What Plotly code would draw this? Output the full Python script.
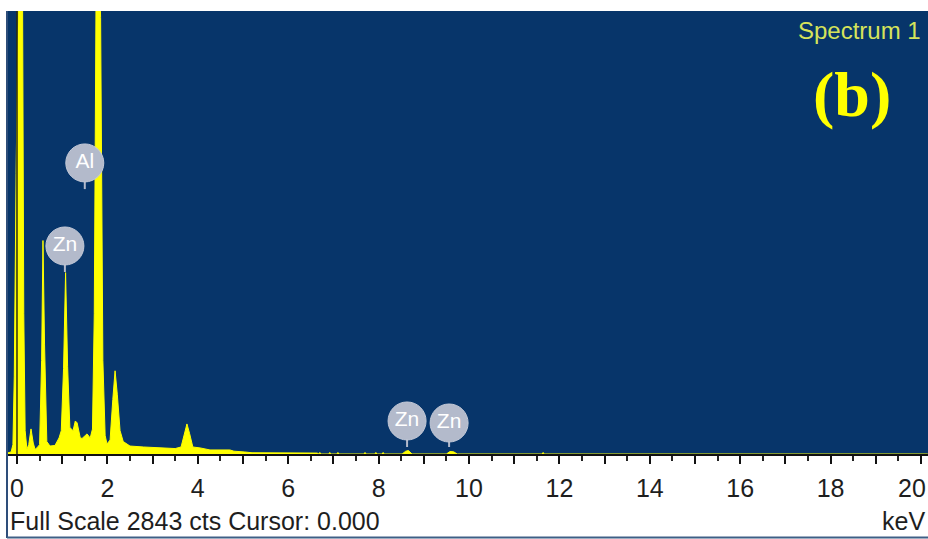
import plotly.graph_objects as go

# EDS spectrum: energy (keV) vs counts, traced peak by peak
energy_kev = [
    -0.22, -0.13,
    -0.09, -0.06, -0.02, 0.03, 0.08, 0.12, 0.15, 0.18, 0.22,
    0.26, 0.31, 0.36, 0.40, 0.44,
    0.50, 0.545, 0.575, 0.61, 0.66,
    0.73, 0.84, 0.93,
    0.98, 1.03, 1.075, 1.12, 1.17,
    1.24, 1.29, 1.33, 1.40, 1.44, 1.55, 1.62, 1.67,
    1.71, 1.75, 1.80, 1.85, 1.90, 1.95, 1.99,
    2.06, 2.12, 2.17, 2.22, 2.28, 2.35,
    2.39, 2.50, 2.80, 3.16, 3.50,
    3.63, 3.70, 3.76, 3.82, 3.89,
    4.05, 4.20, 4.27, 4.71, 4.80, 5.04, 5.20, 6.64,
    6.68, 6.70, 6.72, 6.90, 6.92, 6.94, 7.08, 7.10, 7.12,
    7.68, 7.70, 7.72, 7.92, 7.94, 7.96, 8.08, 8.10, 8.12,
    8.52, 8.60, 8.66, 8.74,
    9.50, 9.58, 9.66, 9.74,
    11.62, 11.64, 11.66, 20.15,
]
counts = [
    6, 13,
    60, 500, 1800, 3200, 4000, 3200, 900, 150, 30,
    60, 161, 70, 30, 39,
    60, 600, 1370, 700, 80,
    51, 55, 103,
    150, 550, 1164, 560, 170,
    150, 212, 200, 103, 100, 129, 103, 160,
    900, 3000, 3400, 2800, 600, 120, 64,
    90, 350, 534, 380, 150, 80,
    71, 51, 45, 39, 35,
    45, 130, 193, 130, 45,
    39, 30, 26, 26, 18, 13, 8, 6,
    0, 10, 0, 0, 10, 0, 0, 10, 0,
    0, 10, 0, 0, 10, 0, 0, 10, 0,
    0, 18, 22, 0,
    0, 16, 14, 0,
    0, 10, 0, 0,
]

# Element markers: label, energy (keV), badge height (counts), stem end (counts)
marker_labels = ["Al", "Zn", "Zn", "Zn"]
marker_kev = [1.50, 1.06, 8.63, 9.56]
marker_cts = [1868, 1335, 212, 199]
stem_end_cts = [1700, 1168, 45, 45]

# ticks every keV, labels on even values; the last label sits at the panel edge
tick_vals = list(range(0, 21))
tick_text = [str(v) if v % 2 == 0 and v < 20 else "" for v in tick_vals]
edge_label = "20"

full_scale = 2843
x_range = [-0.221, 20.155]

BG = "#07356A"
YELLOW = "#FFFF00"
BADGE = "#B3BACB"
FONT = "Liberation Sans, Arial"

fig = go.Figure()

fig.add_trace(go.Scatter(
    x=energy_kev, y=counts, mode="lines",
    line=dict(color=YELLOW, width=1),
    fill="tozeroy", fillcolor=YELLOW,
    hoverinfo="skip", showlegend=False,
))

fig.add_trace(go.Scatter(
    x=marker_kev, y=marker_cts, mode="markers+text",
    marker=dict(symbol="circle", size=38, color=BADGE,
                line=dict(color="#C4CAD8", width=1)),
    text=marker_labels, textposition="middle center",
    textfont=dict(family=FONT, size=21, color="white"),
    hoverinfo="skip", showlegend=False, cliponaxis=False,
))

shapes = []
for xk, y0, y1 in zip(marker_kev, marker_cts, stem_end_cts):
    shapes.append(dict(type="line", xref="x", yref="y", x0=xk, x1=xk,
                       y0=y0, y1=y1, line=dict(color=BADGE, width=2),
                       layer="below"))

# cursor at 0 keV
shapes.append(dict(type="line", xref="x", yref="y", x0=0, x1=0,
                   y0=0, y1=full_scale, line=dict(color="#2B2B12", width=1.5),
                   layer="above"))

# panel frame around the axis strip
py = lambda p: (454 - p) / 443.0
shapes.append(dict(type="line", xref="paper", yref="paper",
                   x0=0, x1=0, y0=py(538), y1=1,
                   line=dict(color="#2E4E7A", width=2)))
shapes.append(dict(type="line", xref="paper", yref="paper",
                   x0=0, x1=1.01, y0=py(537.5), y1=py(537.5),
                   line=dict(color="#3F5F86", width=2)))

fig.update_layout(
    width=928, height=539,
    margin=dict(l=7, r=0, t=11, b=85, autoexpand=False),
    paper_bgcolor="white", plot_bgcolor=BG,
    shapes=shapes,
    xaxis=dict(
        range=x_range, showgrid=False, zeroline=False, automargin=False,
        showline=True, linecolor="#111111", linewidth=2,
        tickmode="array", tickvals=tick_vals, ticktext=tick_text,
        ticks="outside", ticklen=8, tickwidth=2, tickcolor="#111111",
        ticklabelstandoff=3,
        tickfont=dict(family=FONT, size=25, color="#1E1E1E"),
        minor=dict(dtick=0.5, ticks="outside", ticklen=5, tickwidth=1.5,
                   tickcolor="#222222", showgrid=False),
        fixedrange=True,
    ),
    yaxis=dict(range=[0, full_scale], showgrid=False, zeroline=False,
               automargin=False,
               showticklabels=False, showline=False, fixedrange=True),
    annotations=[
        dict(text=edge_label, xref="paper", yref="paper",
             x=1.0, y=py(488), xanchor="right", yanchor="middle",
             showarrow=False, font=dict(family=FONT, size=25, color="#1E1E1E")),
        dict(text="Full Scale 2843 cts Cursor: 0.000", xref="paper", yref="paper",
             x=(8 - 7) / 921.0, y=py(521), xanchor="left", yanchor="middle",
             showarrow=False, font=dict(family=FONT, size=25, color="#1E1E1E")),
        dict(text="keV", xref="paper", yref="paper",
             x=(927 - 7) / 921.0, y=py(521), xanchor="right", yanchor="middle",
             showarrow=False, font=dict(family=FONT, size=25, color="#1E1E1E")),
        dict(text="Spectrum 1", xref="paper", yref="paper",
             x=(923 - 7) / 921.0, y=py(31), xanchor="right", yanchor="middle",
             showarrow=False, font=dict(family=FONT, size=24, color="#D6E35A")),
        dict(text="<b>(b)</b>", xref="paper", yref="paper",
             x=(852 - 7) / 921.0, y=py(95), xanchor="center", yanchor="middle",
             showarrow=False,
             font=dict(family="Liberation Serif, Times New Roman", size=64,
                       color=YELLOW)),
    ],
)

fig.write_html("out.html")
